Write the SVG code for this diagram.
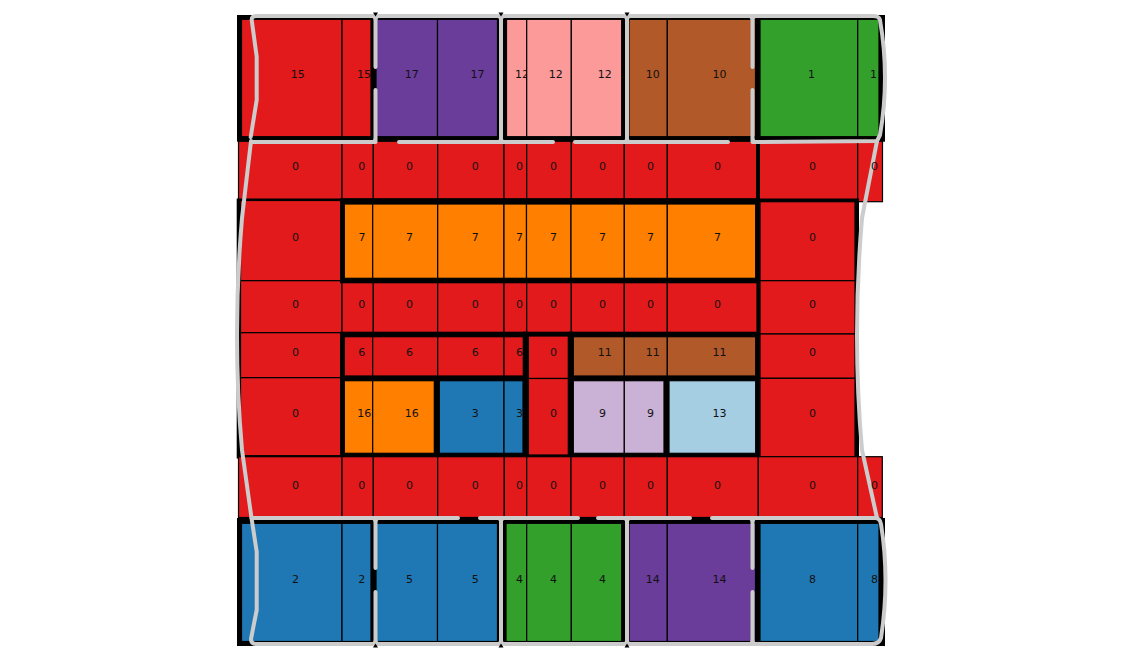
<svg xmlns="http://www.w3.org/2000/svg" width="1122" height="662" viewBox="0 0 1122 662">
<style>
.c{stroke:#000;stroke-width:1.2}
.r{fill:#e31a1c}.o{fill:#ff7f00}.p{fill:#6a3d9a}.k{fill:#fb9a99}.b{fill:#b15928}.g{fill:#33a02c}.u{fill:#1f78b4}.l{fill:#cab2d6}.a{fill:#a6cee3}
.blk{fill:#000}
text{font-family:"DejaVu Sans",sans-serif;font-size:11px;fill:#111;text-anchor:middle}
.gl{fill:none;stroke:#cccccc;stroke-width:4;stroke-linecap:round;stroke-linejoin:round}
.fl{fill:none;stroke:#cccccc;stroke-width:3;stroke-linecap:round}
</style>
<rect width="1122" height="662" fill="#fff"/>

<!-- row 2 -->
<g id="row2">
<g id="r2c0"><rect class="c r" x="238.5" y="141" width="103.5" height="59"/><text x="295.5" y="170">0</text></g>
<g id="r2c1"><rect class="c r" x="342" y="141" width="31.3" height="59"/><text x="361.7" y="170">0</text></g>
<g id="r2c2"><rect class="c r" x="373.3" y="141" width="64.4" height="59"/><text x="409.5" y="170">0</text></g>
<g id="r2c3"><rect class="c r" x="437.7" y="141" width="66.3" height="59"/><text x="475.3" y="170">0</text></g>
<g id="r2c4"><rect class="c r" x="504" y="141" width="22.7" height="59"/><text x="519.5" y="170">0</text></g>
<g id="r2c5"><rect class="c r" x="526.7" y="141" width="44.6" height="59"/><text x="553.5" y="170">0</text></g>
<g id="r2c6"><rect class="c r" x="571.3" y="141" width="53" height="59"/><text x="602.5" y="170">0</text></g>
<g id="r2c7"><rect class="c r" x="624.3" y="141" width="43" height="59"/><text x="650.5" y="170">0</text></g>
<g id="r2c8"><rect class="c r" x="667.3" y="141" width="90.7" height="59"/><text x="717.5" y="170">0</text></g>
<g id="r2c9"><rect class="c r" x="758" y="141" width="99.7" height="59"/><text x="812.5" y="170">0</text></g>
<g id="r2c10"><rect class="c r" x="857.7" y="141" width="24.8" height="60.7"/></g>
<rect class="blk" x="756" y="141" width="4" height="59"/>
</g>

<!-- big middle group -->
<g id="middle">
<rect class="blk" x="236.7" y="198.5" width="622.3" height="260"/>
<g id="r3c0"><rect class="c r" x="240.5" y="200.5" width="101.5" height="80.2"/><text x="295.5" y="241.3">0</text></g>
<g id="r4c0"><rect class="c r" x="240.5" y="280.7" width="101.5" height="52"/><text x="295.5" y="307.6">0</text></g>
<g id="r5c0"><rect class="c r" x="240.5" y="332.7" width="101.5" height="45"/><text x="295.5" y="356.3">0</text></g>
<g id="r6c0"><rect class="c r" x="240.5" y="377.7" width="101.5" height="78"/><text x="295.5" y="417.3">0</text></g>
<g id="r3c9"><rect class="c r" x="760" y="201.7" width="95" height="79"/><text x="812.5" y="241.3">0</text></g>
<g id="r4c9"><rect class="c r" x="760" y="280.7" width="95" height="53.3"/><text x="812.5" y="307.6">0</text></g>
<g id="r5c9"><rect class="c r" x="760" y="334" width="95" height="44.3"/><text x="812.5" y="356.3">0</text></g>
<g id="r6c9"><rect class="c r" x="760" y="378.3" width="95" height="78.7"/><text x="812.5" y="417.3">0</text></g>

<g id="r4c1"><rect class="c r" x="342" y="281" width="31.3" height="52"/><text x="361.7" y="307.6">0</text></g>
<g id="r4c2"><rect class="c r" x="373.3" y="281" width="64.4" height="52"/><text x="409.5" y="307.6">0</text></g>
<g id="r4c3"><rect class="c r" x="437.7" y="281" width="66.3" height="52"/><text x="475.3" y="307.6">0</text></g>
<g id="r4c4"><rect class="c r" x="504" y="281" width="22.7" height="52"/><text x="519.5" y="307.6">0</text></g>
<g id="r4c5"><rect class="c r" x="526.7" y="281" width="44.6" height="52"/><text x="553.5" y="307.6">0</text></g>
<g id="r4c6"><rect class="c r" x="571.3" y="281" width="53" height="52"/><text x="602.5" y="307.6">0</text></g>
<g id="r4c7"><rect class="c r" x="624.3" y="281" width="43" height="52"/><text x="650.5" y="307.6">0</text></g>
<g id="r4c8"><rect class="c r" x="667.3" y="281" width="89.7" height="52"/><text x="717.5" y="307.6">0</text></g>

<g id="group7">
<rect class="blk" x="340" y="198.3" width="420" height="85"/>
<g id="r3c1"><rect class="c o" x="344.3" y="204" width="28.4" height="74.3"/><text x="361.9" y="241.3">7</text></g>
<g id="r3c2"><rect class="c o" x="372.7" y="204" width="65" height="74.3"/><text x="409.5" y="241.3">7</text></g>
<g id="r3c3"><rect class="c o" x="437.7" y="204" width="66.3" height="74.3"/><text x="475.3" y="241.3">7</text></g>
<g id="r3c4"><rect class="c o" x="504" y="204" width="22.5" height="74.3"/><text x="519.5" y="241.3">7</text></g>
<g id="r3c5"><rect class="c o" x="526.5" y="204" width="44.5" height="74.3"/><text x="553.5" y="241.3">7</text></g>
<g id="r3c6"><rect class="c o" x="571" y="204" width="53.3" height="74.3"/><text x="602.5" y="241.3">7</text></g>
<g id="r3c7"><rect class="c o" x="624.3" y="204" width="43" height="74.3"/><text x="650.5" y="241.3">7</text></g>
<g id="r3c8"><rect class="c o" x="667.3" y="204" width="88.4" height="74.3"/><text x="717.5" y="241.3">7</text></g>
</g>

<g id="group6">
<rect class="blk" x="340" y="331.7" width="188.3" height="49"/>
<g id="r5c1"><rect class="c r" x="344.3" y="336.7" width="28.4" height="39.3"/><text x="361.7" y="356.3">6</text></g>
<g id="r5c2"><rect class="c r" x="372.7" y="336.7" width="65" height="39.3"/><text x="409.5" y="356.3">6</text></g>
<g id="r5c3"><rect class="c r" x="437.7" y="336.7" width="66.3" height="39.3"/><text x="475.3" y="356.3">6</text></g>
<g id="r5c4"><rect class="c r" x="504" y="336.7" width="19.3" height="39.3"/><text x="519.5" y="356.3">6</text></g>
</g>
<g id="group0">
<rect class="blk" x="523.3" y="331.7" width="50" height="126.6"/>
<g id="r5c5"><rect class="c r" x="528.3" y="336" width="40" height="42.5"/><text x="553.5" y="356.3">0</text></g>
<g id="r6c5"><rect class="c r" x="528.3" y="378.5" width="40" height="76.5"/><text x="553.5" y="417.3">0</text></g>
</g>
<g id="group11">
<rect class="blk" x="568.3" y="331.7" width="191.7" height="49"/>
<g id="r5c6"><rect class="c b" x="573.3" y="336.7" width="51" height="39.3"/><text x="604.8" y="356.3">11</text></g>
<g id="r5c7"><rect class="c b" x="624.3" y="336.7" width="43" height="39.3"/><text x="652.8" y="356.3">11</text></g>
<g id="r5c8"><rect class="c b" x="667.3" y="336.7" width="88.4" height="39.3"/><text x="719.5" y="356.3">11</text></g>
</g>
<g id="group16">
<rect class="blk" x="340" y="376" width="99.3" height="82.3"/>
<g id="r6c1"><rect class="c o" x="344.3" y="380.7" width="28.4" height="72.6"/><text x="364.2" y="417.3">16</text></g>
<g id="r6c2"><rect class="c o" x="372.7" y="380.7" width="61.6" height="72.6"/><text x="411.8" y="417.3">16</text></g>
</g>
<g id="group3">
<rect class="blk" x="434.3" y="376" width="94" height="82.3"/>
<g id="r6c3"><rect class="c u" x="439.3" y="380.7" width="64.7" height="72.6"/><text x="475.3" y="417.3">3</text></g>
<g id="r6c4"><rect class="c u" x="504" y="380.7" width="19" height="72.6"/><text x="519.5" y="417.3">3</text></g>
</g>
<g id="group9">
<rect class="blk" x="568.3" y="376" width="100.7" height="82.3"/>
<g id="r6c6"><rect class="c l" x="573.3" y="380.7" width="51" height="72.6"/><text x="602.5" y="417.3">9</text></g>
<g id="r6c7"><rect class="c l" x="624.3" y="380.7" width="39.7" height="72.6"/><text x="650.5" y="417.3">9</text></g>
</g>
<g id="group13">
<rect class="blk" x="664" y="376" width="96" height="82.3"/>
<g id="r6c8"><rect class="c a" x="669" y="380.7" width="86.7" height="72.6"/><text x="719.5" y="417.3">13</text></g>
</g>
</g>

<!-- row 7 -->
<g id="row7">
<g id="r7c0"><rect class="c r" x="238.5" y="456.7" width="103.5" height="60.8"/><text x="295.5" y="489">0</text></g>
<g id="r7c1"><rect class="c r" x="342" y="456.7" width="31.3" height="60.8"/><text x="361.7" y="489">0</text></g>
<g id="r7c2"><rect class="c r" x="373.3" y="456.7" width="64.4" height="60.8"/><text x="409.5" y="489">0</text></g>
<g id="r7c3"><rect class="c r" x="437.7" y="456.7" width="66.6" height="60.8"/><text x="475.3" y="489">0</text></g>
<g id="r7c4"><rect class="c r" x="504.3" y="456.7" width="22.4" height="60.8"/><text x="519.5" y="489">0</text></g>
<g id="r7c5"><rect class="c r" x="526.7" y="456.7" width="44.3" height="60.8"/><text x="553.5" y="489">0</text></g>
<g id="r7c6"><rect class="c r" x="571" y="456.7" width="53.3" height="60.8"/><text x="602.5" y="489">0</text></g>
<g id="r7c7"><rect class="c r" x="624.3" y="456.7" width="43" height="60.8"/><text x="650.5" y="489">0</text></g>
<g id="r7c8"><rect class="c r" x="667.3" y="456.7" width="91" height="60.8"/><text x="717.5" y="489">0</text></g>
<g id="r7c9"><rect class="c r" x="758.3" y="456.7" width="99.4" height="60.8"/><text x="812.5" y="489">0</text></g>
<g id="r7c10"><rect class="c r" x="857.7" y="456.7" width="24.6" height="60.8"/></g>
</g>

<!-- row 1 groups -->
<g id="group15">
<rect class="blk" x="237" y="15" width="139" height="126.7"/>
<g id="r1c0"><rect class="c r" x="241.5" y="19.3" width="100.5" height="117.4"/><text x="297.8" y="78">15</text></g>
<g id="r1c1"><rect class="c r" x="342" y="19.3" width="29" height="117.4"/><text x="364" y="78">15</text></g>
</g>
<g id="group17">
<rect class="blk" x="371" y="15" width="132" height="126.7"/>
<g id="r1c2"><rect class="c p" x="376" y="19.3" width="61.5" height="117.4"/><text x="411.8" y="78">17</text></g>
<g id="r1c3"><rect class="c p" x="437.5" y="19.3" width="60" height="117.4"/><text x="477.6" y="78">17</text></g>
</g>
<g id="group12">
<rect class="blk" x="502" y="15" width="123" height="126.7"/>
<g id="r1c4"><rect class="c k" x="506.5" y="19.3" width="20.2" height="117.4"/><text x="522" y="78">12</text></g>
<g id="r1c5"><rect class="c k" x="526.7" y="19.3" width="44.6" height="117.4"/><text x="555.8" y="78">12</text></g>
<g id="r1c6"><rect class="c k" x="571.3" y="19.3" width="50.4" height="117.4"/><text x="604.8" y="78">12</text></g>
</g>
<g id="group10">
<rect class="blk" x="624" y="15" width="136" height="126.7"/>
<g id="r1c7"><rect class="c b" x="629" y="19.3" width="38.3" height="117.4"/><text x="652.8" y="78">10</text></g>
<g id="r1c8"><rect class="c b" x="667.3" y="19.3" width="88.2" height="117.4"/><text x="719.5" y="78">10</text></g>
</g>
<g id="group1">
<rect class="blk" x="755" y="15" width="130" height="126.7"/>
<g id="r1c9"><rect class="c g" x="760" y="19.3" width="97.7" height="117.4"/><text x="811.5" y="78">1</text></g>
<g id="r1c10"><rect class="c g" x="857.7" y="19.3" width="21.3" height="117.4"/><text x="873.5" y="78">1</text></g>
</g>

<!-- row 8 groups -->
<g id="group2">
<rect class="blk" x="237" y="518" width="139" height="128"/>
<g id="r8c0"><rect class="c u" x="241.5" y="523.3" width="100.5" height="118.2"/><text x="295.5" y="583">2</text></g>
<g id="r8c1"><rect class="c u" x="342" y="523.3" width="29" height="118.2"/><text x="361.7" y="583">2</text></g>
</g>
<g id="group5">
<rect class="blk" x="371" y="518" width="132" height="128"/>
<g id="r8c2"><rect class="c u" x="376" y="523.3" width="61.5" height="118.2"/><text x="409.5" y="583">5</text></g>
<g id="r8c3"><rect class="c u" x="437.5" y="523.3" width="60" height="118.2"/><text x="475.3" y="583">5</text></g>
</g>
<g id="group4">
<rect class="blk" x="502" y="518" width="123" height="128"/>
<g id="r8c4"><rect class="c g" x="506" y="523.3" width="20.7" height="118.2"/><text x="519.5" y="583">4</text></g>
<g id="r8c5"><rect class="c g" x="526.7" y="523.3" width="44.6" height="118.2"/><text x="553.5" y="583">4</text></g>
<g id="r8c6"><rect class="c g" x="571.3" y="523.3" width="50.4" height="118.2"/><text x="602.5" y="583">4</text></g>
</g>
<g id="group14">
<rect class="blk" x="624" y="518" width="136" height="128"/>
<g id="r8c7"><rect class="c p" x="629" y="523.3" width="38.3" height="118.2"/><text x="652.8" y="583">14</text></g>
<g id="r8c8"><rect class="c p" x="667.3" y="523.3" width="88.2" height="118.2"/><text x="719.5" y="583">14</text></g>
</g>
<g id="group8">
<rect class="blk" x="755" y="518" width="130" height="128"/>
<g id="r8c9"><rect class="c u" x="760" y="523.3" width="97.7" height="118.2"/><text x="812.5" y="583">8</text></g>
<g id="r8c10"><rect class="c u" x="857.7" y="523.3" width="21.3" height="118.2"/><text x="874.5" y="583">8</text></g>
</g>

<!-- boundary lines -->
<g id="connectors">
<path class="gl" d="M 250.7 137 L 256.7 100 L 256.7 56.7 L 251.7 20 Q 251.5 16 256 16 L 873 16 Q 879 16 880 20 Q 890 78 880 135 L 877 141 L 752.5 142 L 752.5 90"/>
<path class="gl" d="M 375.5 16 L 375.5 67 M 375.5 90 L 375.5 142 L 251 142 M 501 16 L 501 142 M 627 16 L 627 142 M 752.5 16 L 752.5 67 M 399 142 L 553 142 M 575 142 L 728 142"/>
<path class="gl" d="M 251 141 L 242 218 Q 232 337 242 450 L 251.5 518"/>
<path class="gl" d="M 877 141 L 862 218 Q 852 337 862 450 L 877 518"/>
<path class="gl" d="M 458 518 L 251.5 518 L 256.7 551.7 L 256.7 610 L 251 639 Q 251 644 256 644 L 872 644 Q 879 644 881 638 Q 890 580 881 524 Q 880 518 875 518 L 712 518"/>
<path class="gl" d="M 480 518 L 578 518 M 598 518 L 690 518 M 375.5 518 L 375.5 568 M 375.5 592 L 375.5 644 M 501 518 L 501 644 M 627 518 L 627 644 M 752.5 518 L 752.5 568 M 752.5 592 L 752.5 644"/>
<path class="fl" d="M 370.5 16 Q 375.5 16 375.5 21 M 380.5 16 Q 375.5 16 375.5 21 M 496 16 Q 501 16 501 21 M 506 16 Q 501 16 501 21 M 622 16 Q 627 16 627 21 M 632 16 Q 627 16 627 21 M 747.5 16 Q 752.5 16 752.5 21 M 757.5 16 Q 752.5 16 752.5 21"/>
<path class="fl" d="M 370.5 142 Q 375.5 142 375.5 137 M 496 142 Q 501 142 501 137 M 506 142 Q 501 142 501 137 M 622 142 Q 627 142 627 137 M 632 142 Q 627 142 627 137 M 757.5 142 Q 752.5 142 752.5 137"/>
<path class="fl" d="M 370.5 518 Q 375.5 518 375.5 523 M 380.5 518 Q 375.5 518 375.5 523 M 496 518 Q 501 518 501 523 M 506 518 Q 501 518 501 523 M 622 518 Q 627 518 627 523 M 632 518 Q 627 518 627 523 M 747.5 518 Q 752.5 518 752.5 523 M 757.5 518 Q 752.5 518 752.5 523"/>
<path class="fl" d="M 370.5 644 Q 375.5 644 375.5 639 M 380.5 644 Q 375.5 644 375.5 639 M 496 644 Q 501 644 501 639 M 506 644 Q 501 644 501 639 M 622 644 Q 627 644 627 639 M 632 644 Q 627 644 627 639 M 747.5 644 Q 752.5 644 752.5 639 M 757.5 644 Q 752.5 644 752.5 639"/>
<polygon class="blk" points="373,12.5 378,12.5 375.5,16.5"/>
<polygon class="blk" points="498.5,12.5 503.5,12.5 501,16.5"/>
<polygon class="blk" points="624.5,12.5 629.5,12.5 627,16.5"/>
<polygon class="blk" points="373,647.5 378,647.5 375.5,643.5"/>
<polygon class="blk" points="498.5,647.5 503.5,647.5 501,643.5"/>
<polygon class="blk" points="624.5,647.5 629.5,647.5 627,643.5"/>
</g>

<!-- labels of the right-edge cells, drawn above the boundary line that crosses them -->
<g id="edge-labels">
<text x="874.5" y="170">0</text>
<text x="874.5" y="489">0</text>
</g>
</svg>
